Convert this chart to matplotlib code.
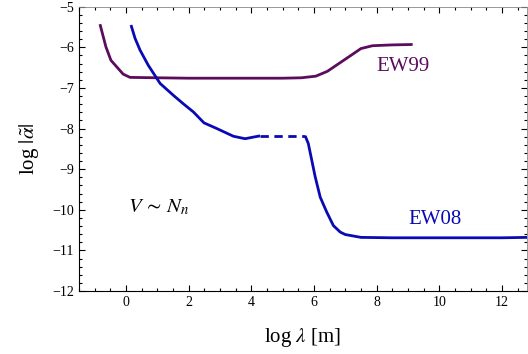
import matplotlib
matplotlib.use("Agg")
import matplotlib.pyplot as plt
from matplotlib.ticker import MultipleLocator

plt.rcParams['font.family'] = ['Liberation Serif', 'DejaVu Serif']
plt.rcParams['mathtext.fontset'] = 'stix'

# EW99 curve
ew99_x = [-0.83, -0.64, -0.48, -0.09, 0.13, 1.0, 2.0, 3.0, 4.0, 5.0, 5.6, 6.06, 6.43, 7.12, 7.5, 7.87, 8.5, 9.15]
ew99_y = [-5.43, -5.99, -6.32, -6.66, -6.74, -6.75, -6.76, -6.76, -6.76, -6.76, -6.75, -6.71, -6.59, -6.23, -6.03, -5.96, -5.94, -5.93]

# EW08 curve, solid part before the gap
ew08a_x = [0.16, 0.29, 0.45, 0.71, 1.09, 1.51, 1.83, 2.15, 2.49, 2.9, 3.43, 3.8, 4.07, 4.28]
ew08a_y = [-5.45, -5.78, -6.07, -6.44, -6.89, -7.18, -7.39, -7.59, -7.86, -8.0, -8.19, -8.25, -8.21, -8.18]
# dashed bridge
ew08b_x = [4.28, 5.72]
ew08b_y = [-8.18, -8.18]
# solid part after the gap
ew08c_x = [5.72, 5.82, 5.93, 6.04, 6.2, 6.41, 6.62, 6.84, 7.0, 7.5, 8.5, 10.0, 11.0, 12.0, 12.8]
ew08c_y = [-8.18, -8.37, -8.78, -9.19, -9.69, -10.06, -10.39, -10.55, -10.61, -10.68, -10.69, -10.69, -10.69, -10.69, -10.68]

purple = '#5c0c5c'
blue = '#0a0ab4'

fig = plt.figure(figsize=(5.28, 3.54), dpi=100)
ax = fig.add_axes([0.1496, 0.178, 0.8485, 0.803])

ax.plot(ew99_x, ew99_y, color=purple, lw=2.0, solid_capstyle='butt')
ax.plot(ew08a_x, ew08a_y, color=blue, lw=2.0, solid_capstyle='butt')
ax.plot(ew08b_x, ew08b_y, color=blue, lw=2.0, ls=(0, (3, 2)))
ax.plot(ew08c_x, ew08c_y, color=blue, lw=2.0, solid_capstyle='butt')

ax.text(8.0, -6.48, 'EW99', color=purple, fontsize=15, va='center')
ax.text(9.0, -10.23, 'EW08', color=blue, fontsize=15, va='center')
ax.text(0.07, -9.95, r'$V\,\sim\,N_n$', fontsize=15, va='center')

ax.set_xlim(-1.5, 12.8)
ax.set_ylim(-12, -5)
ax.xaxis.set_major_locator(MultipleLocator(2))
ax.xaxis.set_minor_locator(MultipleLocator(0.5))
ax.yaxis.set_major_locator(MultipleLocator(1))
ax.yaxis.set_minor_locator(MultipleLocator(0.2))
ax.tick_params(which='both', direction='in', top=True, right=True, labelsize=10, width=0.8)
ax.tick_params(which='major', length=4)
ax.tick_params(which='minor', length=2.5)
for s in ['top', 'right']:
    ax.spines[s].set_color('#888888')
    ax.spines[s].set_linewidth(0.6)

ax.set_xlabel(r'log $\lambda$ [m]', fontsize=15, labelpad=12)
ax.set_ylabel(r'log $|\tilde{\alpha}|$', fontsize=15, labelpad=8)

fig.savefig('out.png', dpi=100)
